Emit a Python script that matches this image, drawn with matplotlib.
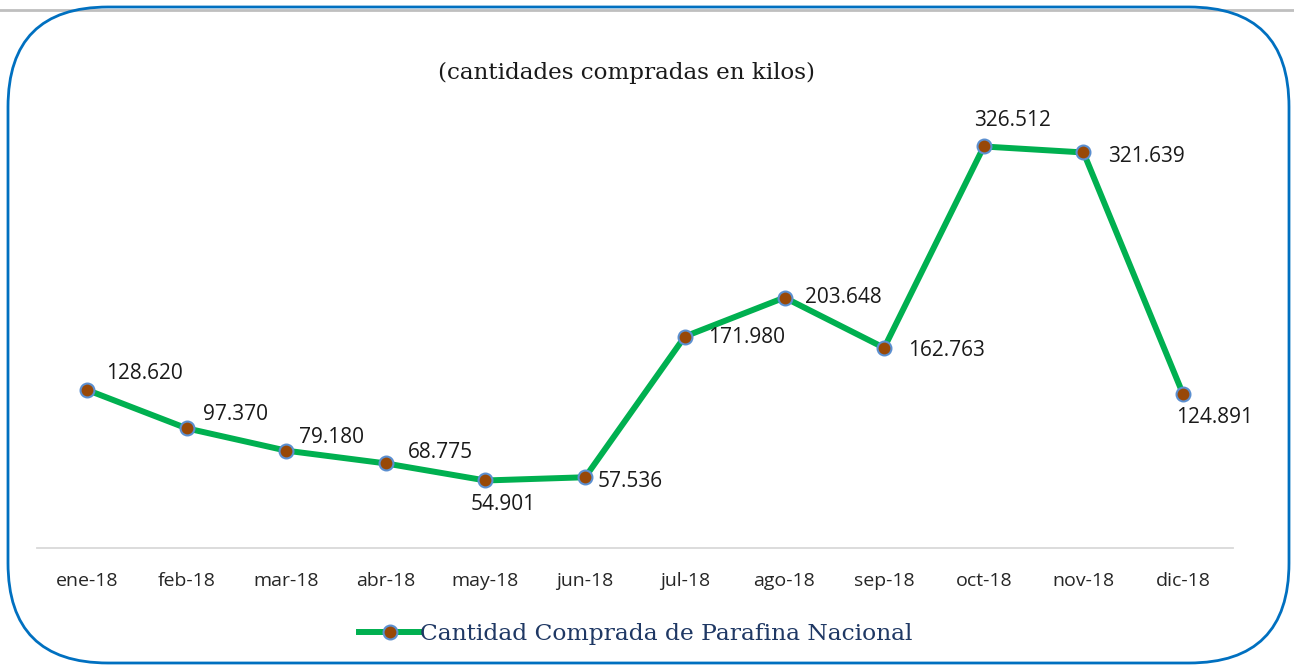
import matplotlib
matplotlib.use("Agg")
import matplotlib.pyplot as plt
from matplotlib.patches import FancyBboxPatch
from matplotlib.lines import Line2D

months = ["ene-18", "feb-18", "mar-18", "abr-18", "may-18", "jun-18",
          "jul-18", "ago-18", "sep-18", "oct-18", "nov-18", "dic-18"]
values = [128.620, 97.370, 79.180, 68.775, 54.901, 57.536,
          171.980, 203.648, 162.763, 326.512, 321.639, 124.891]
labels = ["128.620", "97.370", "79.180", "68.775", "54.901", "57.536",
          "171.980", "203.648", "162.763", "326.512", "321.639", "124.891"]
title = "(cantidades compradas en kilos)"
series_name = "Cantidad Comprada de Parafina Nacional"

# label offsets in points (dx, dy, ha, va)
offsets = [(14, 4, "left", "bottom"), (12, 2, "left", "bottom"), (9, 2, "left", "bottom"),
           (16, 0, "left", "bottom"), (-11, -10, "left", "top"), (9, -3, "left", "center"),
           (17, -1, "left", "center"), (15, 0, "left", "center"), (17, -2, "left", "center"),
           (-7, 11, "left", "bottom"), (18, -3, "left", "center"), (-5, -9, "left", "top")]

W, H = 1294, 665
fig = plt.figure(figsize=(W / 100, H / 100), dpi=100)

# grey page line and rounded blue frame
fig.add_artist(Line2D([0, 1], [1 - 10 / H, 1 - 10 / H], transform=fig.transFigure,
                      color="#BFBFBF", lw=2, zorder=0))
box = FancyBboxPatch((8 / W, 2 / H), (1289 - 8) / W, (663 - 7) / H,
                     boxstyle="round,pad=0,rounding_size=%f" % (100 / W),
                     transform=fig.transFigure, fill=False, ec="#0070C0", lw=2,
                     mutation_aspect=W / H, zorder=1)
fig.add_artist(box)

ax = fig.add_axes([37 / W, 1 - 548 / H, (1233 - 37) / W, (548 - 117.6) / H])
x = list(range(len(months)))
ax.plot(x, values, color="#00B050", lw=4.3, marker="o", markersize=10,
        markerfacecolor="#984807", markeredgecolor="#5B8FD0", markeredgewidth=1.5,
        zorder=3, solid_joinstyle="round")
ax.set_xlim(-0.5, len(months) - 0.5)
ax.set_ylim(0, 350)
ax.set_yticks([])
for s in ["top", "right", "left"]:
    ax.spines[s].set_visible(False)
ax.spines["bottom"].set_color("#D9D9D9")
ax.spines["bottom"].set_linewidth(1.3)
ax.set_xticks(x)
ax.set_xticklabels(months, fontsize=14, color="#262626", family="Open Sans")
ax.tick_params(axis="x", length=0, pad=17)

for xi, v, lab, (dx, dy, ha, va) in zip(x, values, labels, offsets):
    ax.annotate(lab, (xi, v), xytext=(dx, dy), textcoords="offset points",
                ha=ha, va=va, fontsize=15, color="#1a1a1a", family="Open Sans")

fig.text(626 / W, 1 - 73 / H, title, ha="center", va="center", fontsize=16.6,
         family="DejaVu Serif", color="#1a1a1a")

handle = Line2D([], [], color="#00B050", lw=4.3, marker="o", markersize=10,
                markerfacecolor="#984807", markeredgecolor="#5B8FD0", markeredgewidth=1.5)
leg = fig.legend([handle], [series_name], loc="center", bbox_to_anchor=(636 / W, 1 - 634 / H),
                 frameon=False, handlelength=2.6, handletextpad=0.0,
                 prop={"family": "DejaVu Serif", "size": 16.8})
for t in leg.get_texts():
    t.set_color("#1F3864")

fig.savefig("out.png", dpi=100)
